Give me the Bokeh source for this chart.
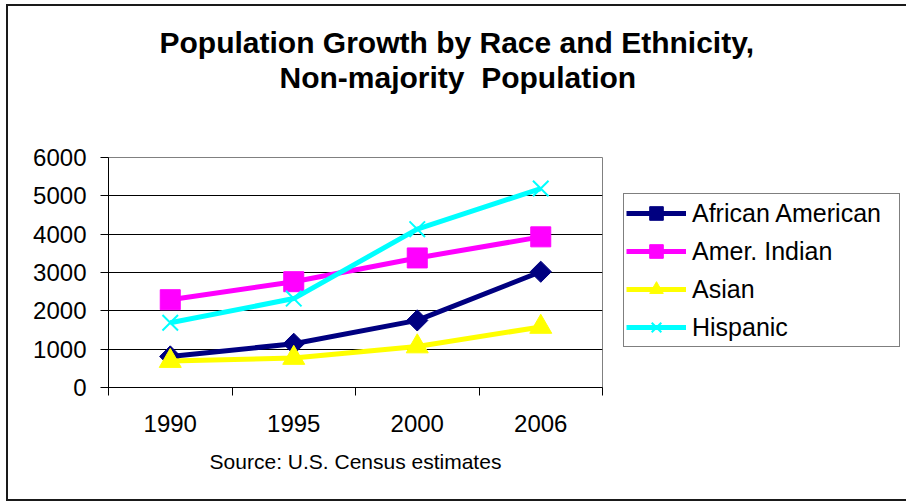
import math
from bokeh.plotting import figure
from bokeh.models import Range1d, FixedTicker, Legend, LegendItem, Title
from bokeh.embed import file_html
from bokeh.resources import INLINE

# ---- data ----
years = ["1990", "1995", "2000", "2006"]
african_american = [810, 1140, 1750, 3020]
amer_indian = [2290, 2760, 3380, 3930]
asian = [690, 770, 1070, 1580]
hispanic = [1690, 2320, 4130, 5190]
series_names = ["African American", "Amer. Indian", "Asian", "Hispanic"]
y_ticks = [0, 1000, 2000, 3000, 4000, 5000, 6000]
title_line1 = "Population Growth by Race and Ethnicity,"
title_line2 = "Non-majority\u00a0 Population"
source_text = "Source: U.S. Census estimates"

FONT = "Liberation Sans"
xs = [i + 0.5 for i in range(len(years))]

p = figure(frame_width=494, frame_height=230,
           min_border_left=100, min_border_right=302,
           min_border_top=151, min_border_bottom=112,
           x_range=Range1d(0, len(years)), y_range=Range1d(y_ticks[0], y_ticks[-1]),
           output_backend="svg", toolbar_location=None)
p.styles = {"border": "2px solid #1a1a1a", "margin-left": "6px", "margin-top": "4px"}
p.background_fill_color = "white"
p.border_fill_color = "white"
p.outline_line_color = "#808080"
p.outline_line_width = 1

styles = [
    ("#000080", "square", 15, math.pi / 4, 1),
    ("#FF00FF", "square", 20, 0, 1),
    ("#FFFF00", "triangle", 22, 0, 1),
    ("#00FFFF", "x", 22, 0, 2),
]
all_vals = [african_american, amer_indian, asian, hispanic]
items = []
for name, vals, (color, marker, size, angle, lw) in zip(series_names, all_vals, styles):
    r1 = p.line(xs, vals, line_color=color, line_width=5)
    r2 = p.scatter(xs, vals, marker=marker, size=size, angle=angle,
                   fill_color=color, line_color=color, line_width=lw)
    items.append(LegendItem(label=name, renderers=[r1, r2]))

legend = Legend(items=items, location=(21, 40), border_line_color="black",
                border_line_width=1, background_fill_color="white", background_fill_alpha=1,
                label_text_font=FONT, label_text_font_size="25px", label_text_color="black",
                glyph_width=60, glyph_height=34, label_height=20, spacing=4,
                padding=2, label_standoff=6, margin=0, label_width=205)
p.add_layout(legend, "right")

# x axis
xa = p.xaxis[0]
xa.ticker = FixedTicker(ticks=xs, minor_ticks=list(range(len(years) + 1)))
xa.major_label_overrides = {x: y for x, y in zip(xs, years)}
xa.major_tick_line_color = None
xa.major_tick_out = 8
xa.major_tick_in = 0
xa.minor_tick_line_color = "black"
xa.minor_tick_out = 8
xa.minor_tick_in = 0
xa.axis_line_color = "black"
xa.major_label_text_font = FONT
xa.major_label_text_font_size = "24px"
xa.major_label_text_color = "black"
xa.major_label_standoff = 19
xa.axis_label = source_text
xa.axis_label_text_font = FONT
xa.axis_label_text_font_size = "21px"
xa.axis_label_text_font_style = "normal"
xa.axis_label_text_color = "black"
xa.axis_label_standoff = 15

# y axis
ya = p.yaxis[0]
ya.ticker = FixedTicker(ticks=y_ticks)
ya.major_tick_line_color = "black"
ya.major_tick_out = 8
ya.major_tick_in = 0
ya.minor_tick_line_color = None
ya.axis_line_color = "black"
ya.major_label_text_font = FONT
ya.major_label_text_font_size = "24px"
ya.major_label_text_color = "black"
ya.major_label_standoff = 14

p.xgrid.grid_line_color = None
p.ygrid.ticker = FixedTicker(ticks=y_ticks[1:-1])
p.ygrid.grid_line_color = "black"
p.ygrid.grid_line_width = 1

# spacer between the plot and the two title lines
p.add_layout(Title(text="\u00a0", standoff=61, text_font=FONT, text_font_size="1px"), "above")
for txt, off in [(title_line2, 171), (title_line1, 51)]:
    p.add_layout(Title(text=txt, align="left", offset=off, standoff=0,
                       text_font=FONT, text_font_size="30px", text_font_style="bold",
                       text_color="black"), "above")

open("out.html", "w").write(file_html(p, INLINE))
